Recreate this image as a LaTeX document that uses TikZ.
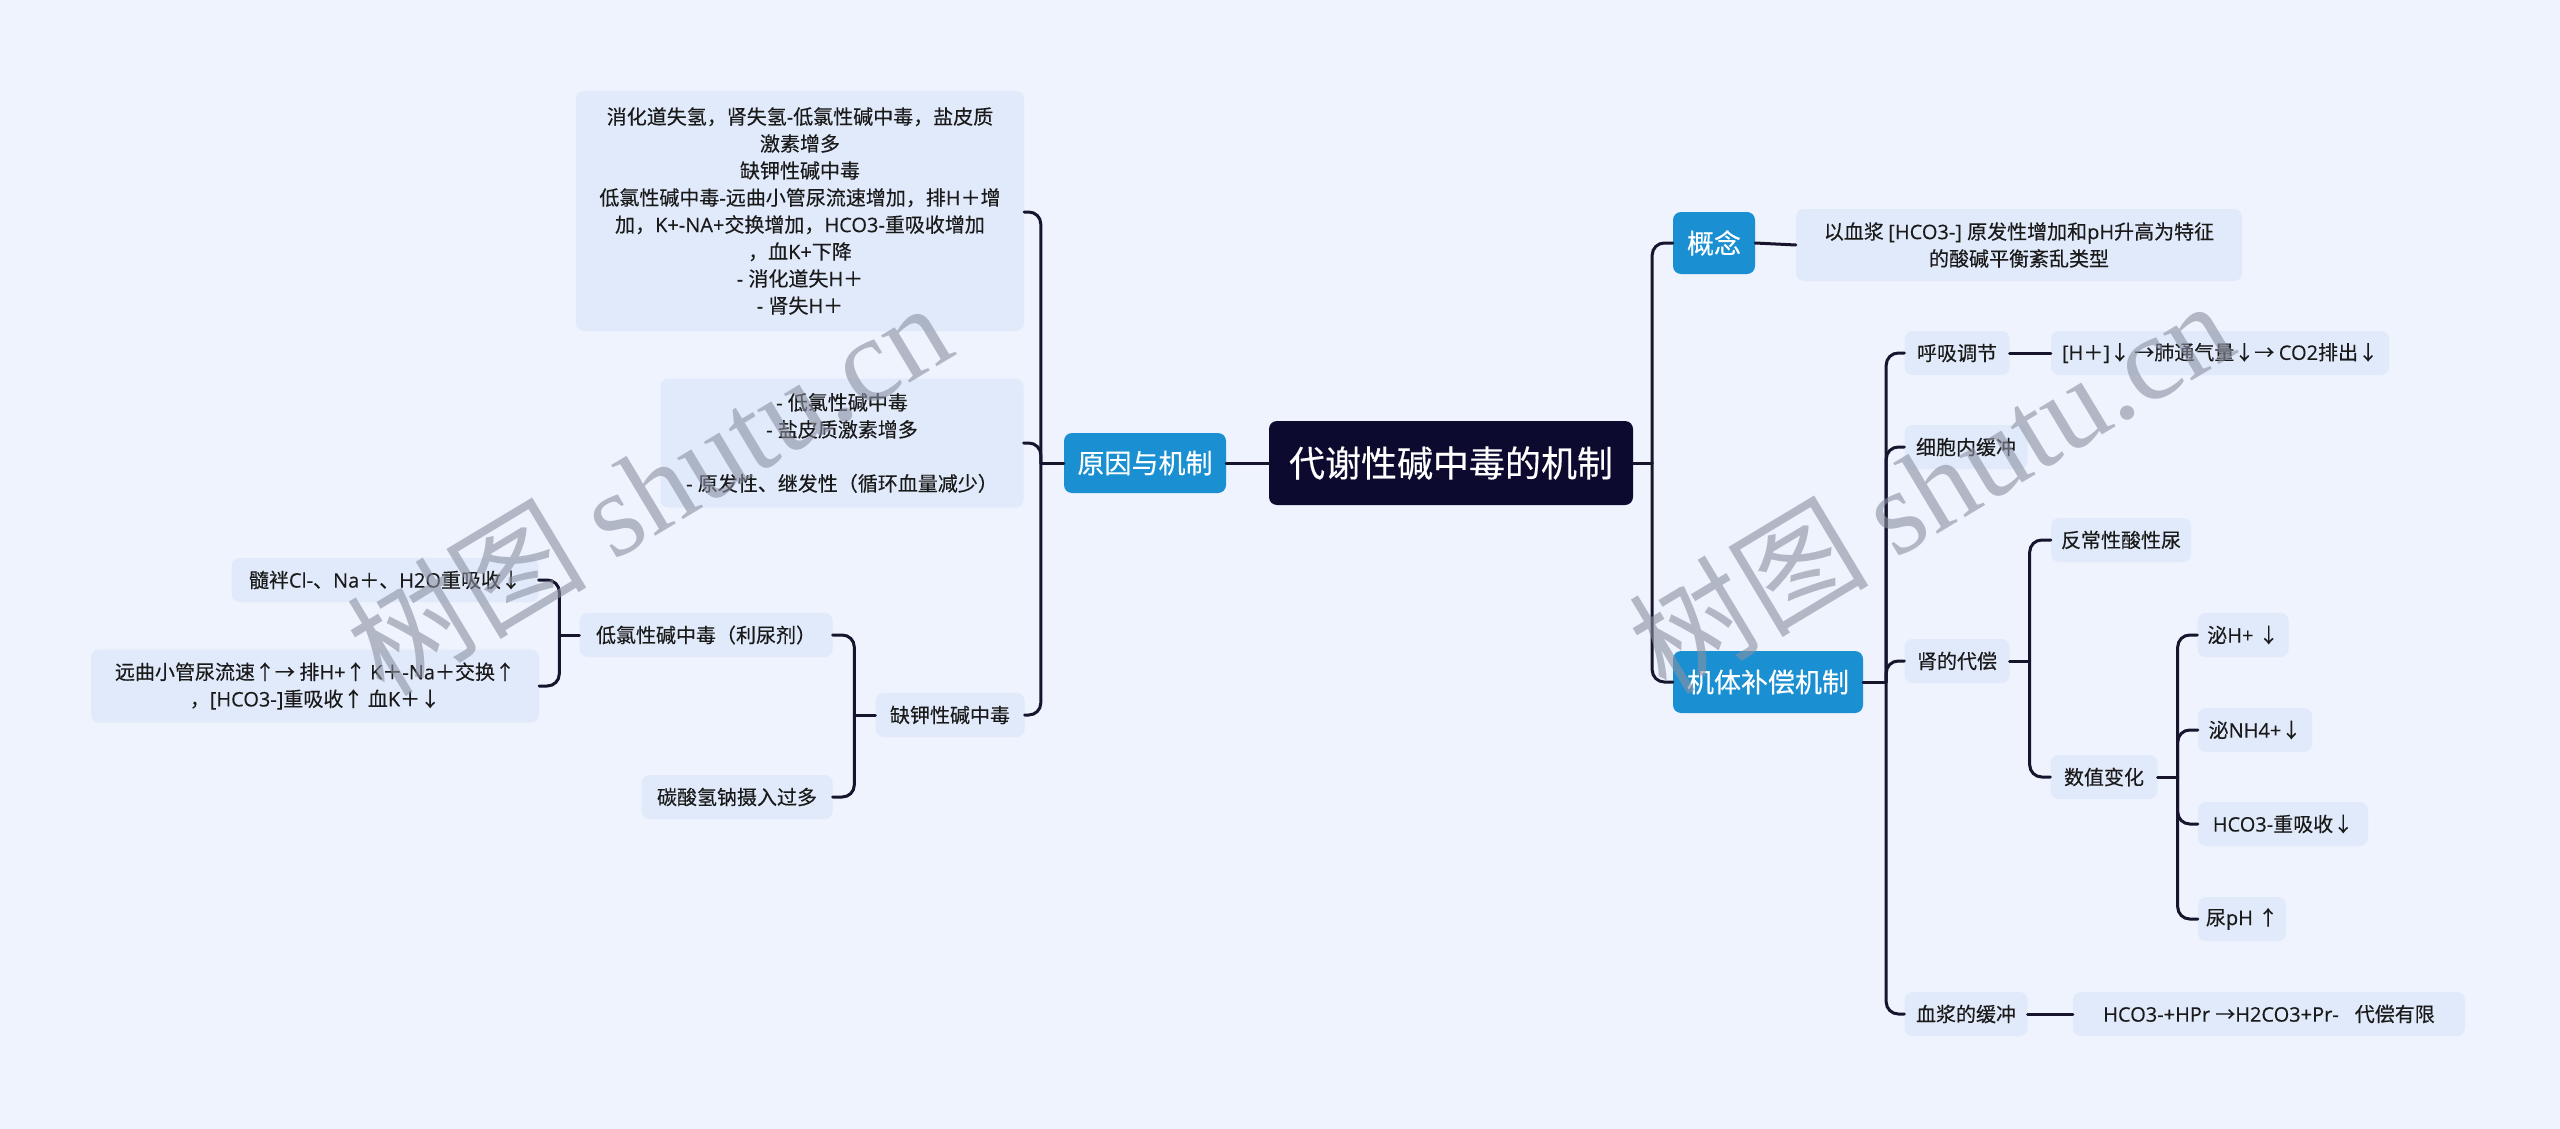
\documentclass[tikz,border=0pt]{standalone}
\usepackage{fontspec}
\setmainfont[FakeBold=0.3]{Open Sans}
\newfontfamily\cjkf[FakeBold=0.3]{Noto Sans CJK SC}
\newfontfamily\wmlatin{Liberation Serif}
\newfontfamily\wmcjk{Noto Sans CJK SC}
\XeTeXinterchartokenstate=1
\newXeTeXintercharclass\CJKcls
\makeatletter
\count@="2190 \loop \XeTeXcharclass\count@=\CJKcls \advance\count@ 1 \ifnum\count@<"2194 \repeat
\count@="3000 \loop \XeTeXcharclass\count@=\CJKcls \advance\count@ 1 \ifnum\count@<"3040 \repeat
\count@="4E00 \loop \XeTeXcharclass\count@=\CJKcls \advance\count@ 1 \ifnum\count@<"A000 \repeat
\count@="FF00 \loop \XeTeXcharclass\count@=\CJKcls \advance\count@ 1 \ifnum\count@<"FFF0 \repeat
\makeatother
\XeTeXinterchartoks 0 \CJKcls = {\cjkf}
\XeTeXinterchartoks 4095 \CJKcls = {\cjkf}
\XeTeXinterchartoks \CJKcls 0 = {\normalfont}
\XeTeXinterchartoks 4095 0 = {\normalfont}
\definecolor{bgc}{HTML}{EEF3FE}
\definecolor{leaffill}{HTML}{E1EAFA}
\definecolor{topicc}{HTML}{1A90D2}
\definecolor{rootc}{HTML}{0C0A2F}
\definecolor{linec}{HTML}{17152E}
\definecolor{txt}{HTML}{1A1A1A}
\definecolor{wmc}{HTML}{8A90A2}
\tikzset{
  base/.style={rounded corners=8pt, inner sep=0pt, align=center},
  leaf/.style={base, fill=leaffill, text=txt, font=\fontsize{20pt}{27pt}\selectfont, minimum height=44pt},
  topic/.style={base, fill=topicc, text=white, font=\fontsize{27pt}{32pt}\selectfont, minimum height=62pt},
  rootnode/.style={base, fill=rootc, text=white, font=\fontsize{36pt}{40pt}\selectfont},
  conn/.style={draw=linec, line width=3pt, line cap=round},
  bar/.style={conn, rounded corners=12pt},
  wm/.style={text=wmc, text opacity=0.6, rotate=31, inner sep=0pt}
}
\begin{document}
\begin{tikzpicture}[x=1pt, y=-1pt]
\fill[bgc] (0,0) rectangle (2560,1129);
\useasboundingbox (0,0) rectangle (2560,1129);

% root and topics
\node[rootnode, minimum width=364pt, minimum height=84pt] (root) at (1451,463) {代谢性碱中毒的机制};
\node[topic, minimum width=162pt, minimum height=60pt] (cause) at (1145,463) {原因与机制};
\node[topic, minimum width=82pt] (concept) at (1714,243) {概念};
\node[topic, minimum width=190pt] (comp) at (1768,682) {机体补偿机制};

% right side
\node[leaf, minimum width=446pt, minimum height=72pt] (cdef) at (2019,245) {以血浆 [HCO3-] 原发性增加和pH升高为特征\\的酸碱平衡紊乱类型};
\node[leaf, minimum width=105pt] (resp) at (1957,353) {呼吸调节};
\node[leaf, minimum width=338pt] (respd) at (2220,353) {[H＋]↓ →肺通气量↓→ CO2排出↓};
\node[leaf, minimum width=123pt] (cell) at (1966,447) {细胞内缓冲};
\node[leaf, minimum width=105pt] (kid) at (1957,661) {肾的代偿};
\node[leaf, minimum width=140pt] (para) at (2121,540) {反常性酸性尿};
\node[leaf, minimum width=107pt] (num) at (2104,777) {数值变化};
\node[leaf, minimum width=91pt] (n1) at (2243,635) {泌H+ ↓};
\node[leaf, minimum width=114pt] (n2) at (2255,730) {泌NH4+↓};
\node[leaf, minimum width=170pt] (n3) at (2283,824) {HCO3-重吸收↓};
\node[leaf, minimum width=88pt] (n4) at (2242,919) {尿pH ↑};
\node[leaf, minimum width=123pt] (plasma) at (1966,1014) {血浆的缓冲};
\node[leaf, minimum width=392pt] (plasmad) at (2269,1014) {HCO3-+HPr →H2CO3+Pr-\hspace{0.8em}代偿有限};

% left side
\node[leaf, minimum width=448pt, minimum height=240pt] (big) at (800,211) {消化道失氢，肾失氢-低氯性碱中毒，盐皮质\\激素增多\\缺钾性碱中毒\\低氯性碱中毒-远曲小管尿流速增加，排H＋增\\加，K+-NA+交换增加，HCO3-重吸收增加\\，血K+下降\\- 消化道失H＋\\- 肾失H＋};
\node[leaf, minimum width=363pt, minimum height=129pt] (mid) at (842,443) {- 低氯性碱中毒\\- 盐皮质激素增多\\[27pt]- 原发性、继发性（循环血量减少）};
\node[leaf, minimum width=149pt] (lowk) at (950,715) {缺钾性碱中毒};
\node[leaf, minimum width=253pt] (lowcl) at (706,635) {低氯性碱中毒（利尿剂）};
\node[leaf, minimum width=191pt] (soda) at (737,797) {碳酸氢钠摄入过多};
\node[leaf, minimum width=307pt] (loop) at (385,580) {髓袢Cl-、Na＋、H2O重吸收↓};
\node[leaf, minimum width=448pt, minimum height=73pt] (dist) at (315,686) {远曲小管尿流速↑→ 排H+↑ K＋-Na＋交换↑\\，[HCO3-]重吸收↑ 血K＋↓};

% connectors
\draw[conn] (cause.east) -- (root.west);
\draw[conn] (root.east) -- ++(19,0) coordinate (rb);
\draw[bar] (rb) |- (concept.west);
\draw[bar] (rb) |- (comp.west);
\draw[conn] (concept.east) -- (cdef.west);

\draw[conn] (comp.east) -- ++(23,0) coordinate (cb);
\draw[bar] (cb) |- (resp.west);
\draw[bar] (cb) |- (cell.west);
\draw[bar] (cb) |- (kid.west);
\draw[bar] (cb) |- (plasma.west);
\draw[conn] (resp.east) -- (respd.west);
\draw[conn] (plasma.east) -- (plasmad.west);

\draw[conn] (kid.east) -- ++(20,0) coordinate (kb);
\draw[bar] (kb) |- (para.west);
\draw[bar] (kb) |- (num.west);

\draw[conn] (num.east) -- ++(20,0) coordinate (nb);
\draw[bar] (nb) |- (n1.west);
\draw[bar] (nb) |- (n2.west);
\draw[bar] (nb) |- (n3.west);
\draw[bar] (nb) |- (n4.west);

\draw[conn] (cause.west) -- ++(-23,0) coordinate (lb);
\draw[bar] (lb) |- ([yshift=-1pt]big.east);
\draw[bar] (lb) |- (mid.east);
\draw[bar] (lb) |- (lowk.east);

\draw[conn] (lowk.west) -- ++(-21,0) coordinate (kb2);
\draw[bar] (kb2) |- (lowcl.east);
\draw[bar] (kb2) |- (soda.east);

\draw[conn] (lowcl.west) -- ++(-20,0) coordinate (cb2);
\draw[bar] (cb2) |- (loop.east);
\draw[bar] (cb2) |- (dist.east);

% watermarks
\node[wm] (wm1) at (648,487) {\XeTeXinterchartokenstate=0 \fontsize{120pt}{120pt}\selectfont\wmcjk 树图\ \wmlatin shutu.cn};
\node[wm] (wm2) at (1930,485) {\XeTeXinterchartokenstate=0 \fontsize{120pt}{120pt}\selectfont\wmcjk 树图\ \wmlatin shutu.cn};
\end{tikzpicture}
\end{document}
